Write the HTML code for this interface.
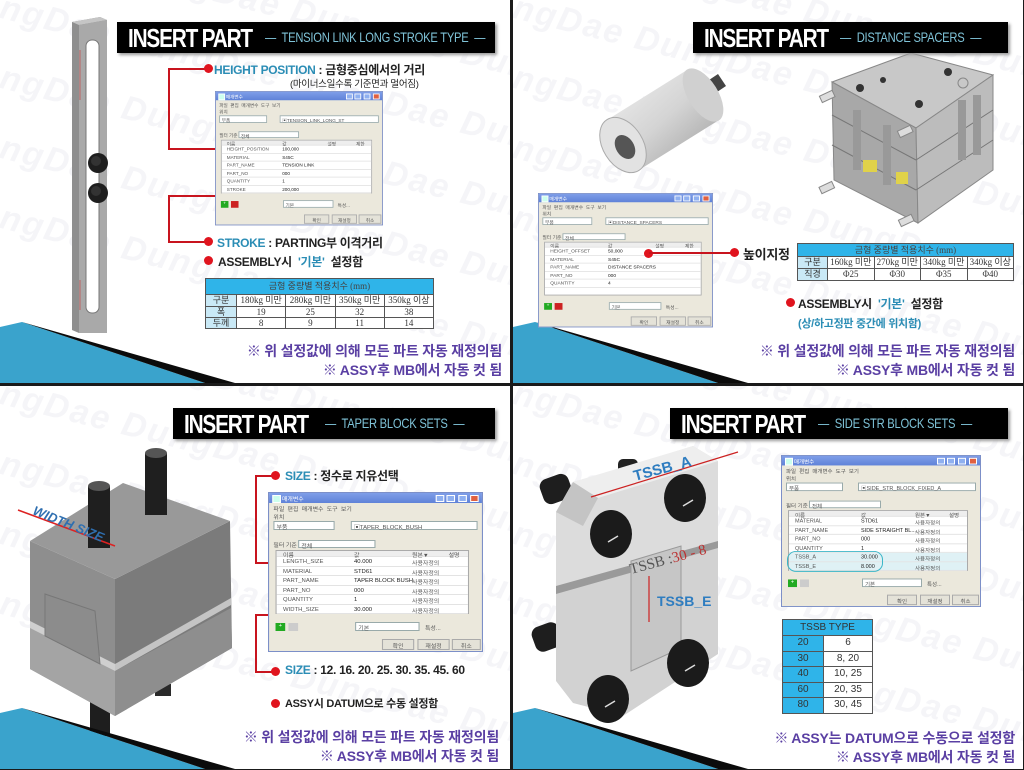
<!DOCTYPE html>
<html><head><meta charset="utf-8">
<style>
*{margin:0;padding:0;box-sizing:border-box}
html,body{width:1024px;height:770px;overflow:hidden}
body{background:#1a1a1a;position:relative;font-family:"Liberation Sans","Noto Sans CJK KR",sans-serif}
.q{position:absolute;width:510px;height:383px;background:#fff;overflow:hidden}
.a{position:absolute;white-space:nowrap}
.wm{position:absolute;left:-60px;font:bold italic 34px "Liberation Sans",sans-serif;color:#f5f5f8;transform:rotate(14deg);white-space:nowrap;letter-spacing:2px}
.title{position:absolute;top:22px;height:31px;background:#000;box-shadow:2px 2px 3px #999;color:#fff;white-space:nowrap;overflow:hidden}
.title b{position:absolute;left:11px;top:1px;font:bold 26px "Liberation Sans",sans-serif;letter-spacing:-1.5px;transform:scaleX(.8);transform-origin:0 0}
.title i{position:absolute;top:7px;font:normal 14px "Liberation Sans",sans-serif;color:#7fc3d8;font-style:normal;letter-spacing:-.3px;transform:scaleX(.8);transform-origin:0 0;white-space:nowrap}
.dot{position:absolute;width:9px;height:9px;border-radius:50%;background:#e0141e}
.lbl{position:absolute;white-space:nowrap;font:bold 12px "Liberation Sans","Noto Sans CJK KR",sans-serif;color:#222;letter-spacing:-.3px}
.lbl .t{color:#2b8db5}
.foot{position:absolute;right:8px;font:bold 14px "Liberation Sans","Noto Sans CJK KR",sans-serif;color:#5a3fa3;white-space:nowrap;letter-spacing:-.2px}
.rl{position:absolute;background:#c8141e}
table.t1{position:absolute;border-collapse:collapse;table-layout:fixed;font:9px "Liberation Serif","Noto Sans CJK KR",serif;color:#333;text-align:center;white-space:nowrap}
table.t1 td{border:1px solid #555;padding:0;background:#fff;overflow:hidden;line-height:1}
table.t1 td.h{background:#2fb4e9}
.dlg{position:absolute;width:200px;height:160px;background:#ebe8dc;border:1px solid #7c8fc8;transform-origin:0 0;font:5.5px "Liberation Sans","Noto Sans CJK KR",sans-serif;color:#555}
.dlg .tb{position:absolute;left:0;top:0;width:198px;height:10px;background:linear-gradient(#7f9ee8,#5f82d8);color:#fff;padding:2px 0 0 12px}
.dlg .tb:before{content:"";position:absolute;left:3px;top:2px;width:6px;height:6px;background:#cfe;border:1px solid #fff}
.dlg .wb{position:absolute;top:1.5px;width:8px;height:7px;background:#8fb0f0;border:1px solid #fff}
.dlg .d{position:absolute;white-space:nowrap}
.dlg .cb{position:absolute;height:9px;background:#fff;border:1px solid #9aa;padding:1px 2px;white-space:nowrap}
.dlg .g{position:absolute;left:6px;top:57px;width:180px;height:64px;background:#fff;border:1px solid #aaa}
.dlg .r{position:absolute;left:0;width:178px;height:9.5px;border-bottom:1px solid #e3e3e3}
.dlg .r span{position:absolute;top:2px;white-space:nowrap}
.dlg .bt{position:absolute;top:146px;height:11px;background:#e4e2d8;border:1px solid #aaa;text-align:center;padding-top:2px}
</style></head><body>

<div class="q" style="left:0;top:0">
 <div class="wm" style="top:10px">DungDae DungDae DungDae DungDae DungDae</div>
 <div class="wm" style="top:80px">DungDae DungDae DungDae DungDae DungDae</div>
 <div class="wm" style="top:150px">DungDae DungDae DungDae DungDae DungDae</div>
 <div class="wm" style="top:220px">DungDae DungDae DungDae DungDae DungDae</div>
 <div class="wm" style="top:290px">DungDae DungDae DungDae DungDae DungDae</div>
 <svg class="a" style="left:0;top:0" width="510" height="383">
  <polygon points="72,22 100,17 107,20 107,333 79,333 72,330" fill="#8f8f8f"/>
  <polygon points="72,22 100,17 107,20 79,25" fill="#c5c5c5"/>
  <polygon points="79,25 107,20 107,333 79,333" fill="#a9a9a9"/>
  <rect x="86" y="40" width="13" height="273" rx="6" fill="#fff" stroke="#777"/>
  <line x1="80" y1="50" x2="80" y2="100" stroke="#c33" stroke-width=".6"/>
  <line x1="80" y1="280" x2="80" y2="310" stroke="#c33" stroke-width=".6"/>
  <circle cx="98" cy="163" r="10" fill="#1e1e1e"/><circle cx="98" cy="193" r="10" fill="#1e1e1e"/>
  <circle cx="96" cy="161" r="5" fill="#333"/><circle cx="96" cy="191" r="5" fill="#333"/>
  <polygon points="0,327 22,322 205,383 0,383" fill="#3aa3cc"/>
  <polygon points="22,322 235,383 205,383" fill="#0b0b0b"/>
 </svg>
 <div class="title" style="left:117px;width:378px"><b>INSERT PART</b><i style="left:148px">—&nbsp; TENSION LINK LONG STROKE TYPE &nbsp;—</i></div>
 <div class="rl" style="left:168px;top:68px;width:40px;height:1.5px"></div>
 <div class="rl" style="left:168px;top:68px;width:1.5px;height:81px"></div>
 <div class="rl" style="left:168px;top:148px;width:50px;height:1.5px"></div>
 <div class="rl" style="left:168px;top:195px;width:50px;height:1.5px"></div>
 <div class="rl" style="left:168px;top:195px;width:1.5px;height:47px"></div>
 <div class="rl" style="left:168px;top:241px;width:40px;height:1.5px"></div>
 <div class="dot" style="left:204px;top:64px"></div>
 <div class="lbl" style="left:214px;top:61px"><span class="t">HEIGHT POSITION</span> : 금형중심에서의 거리</div>
 <div class="lbl" style="left:290px;top:76px;font-size:9.5px;font-weight:normal">(마이너스일수록 기준면과 멀어짐)</div>
 <div class="dlg" style="left:215px;top:91px;transform:scale(.84,.84)">
  <div class="tb">매개변수</div>
  <div class="wb" style="left:155px"></div><div class="wb" style="left:165px"></div><div class="wb" style="left:176px"></div><div class="wb" style="left:187px;background:#e06040"></div>
  <div class="d" style="left:4px;top:12px">파일 &nbsp;편집 &nbsp;매개변수 &nbsp;도구 &nbsp;보기</div>
  <div class="d" style="left:4px;top:20px">위치</div>
  <div class="cb" style="left:4px;top:28px;width:57px">부품</div>
  <div class="cb" style="left:76px;top:28px;width:118px">▣TENSION_LINK_LONG_ST</div>
  <div class="d" style="left:4px;top:48px">필터 기준</div><div class="cb" style="left:27px;top:47px;width:72px;height:8px">전체</div>
  <div class="g">
   <div class="r" style="top:0;height:6px;background:#eee"><span style="left:6px;top:0">이름</span><span style="left:72px;top:0">값</span><span style="left:126px;top:0">설명</span><span style="left:160px;top:0">제한</span></div>
   <div class="r" style="top:6px"><span style="left:6px">HEIGHT_POSITION</span><span style="left:72px;color:#222">100,000</span></div>
   <div class="r" style="top:15.5px"><span style="left:6px">MATERIAL</span><span style="left:72px;color:#222">S45C</span></div>
   <div class="r" style="top:25px"><span style="left:6px">PART_NAME</span><span style="left:72px;color:#222">TENSION LINK</span></div>
   <div class="r" style="top:34.5px"><span style="left:6px">PART_NO</span><span style="left:72px;color:#222">000</span></div>
   <div class="r" style="top:44px"><span style="left:6px">QUANTITY</span><span style="left:72px;color:#222">1</span></div>
   <div class="r" style="top:53.5px"><span style="left:6px">STROKE</span><span style="left:72px;color:#222">200,000</span></div>
  </div>
  <div class="d" style="left:6px;top:130px;width:9px;height:8px;background:#2a2;color:#fff;text-align:center">+</div>
  <div class="d" style="left:18px;top:130px;width:9px;height:8px;background:#c22"></div>
  <div class="cb" style="left:80px;top:129px;width:60px">기본</div>
  <div class="d" style="left:145px;top:131px">특성...</div>
  <div class="bt" style="left:105px;width:30px">확인</div><div class="bt" style="left:138px;width:30px">재설정</div><div class="bt" style="left:170px;width:27px">취소</div>
 </div>
 <div class="dot" style="left:204px;top:237px"></div>
 <div class="lbl" style="left:217px;top:234px"><span class="t">STROKE</span> : PARTING부 이격거리</div>
 <div class="dot" style="left:204px;top:256px"></div>
 <div class="lbl" style="left:218px;top:253px">ASSEMBLY시 &nbsp;<span class="t">'기본'</span>&nbsp; 설정함</div>
 <table class="t1" style="left:205px;top:278px;width:229px">
  <colgroup><col style="width:31px"><col><col><col><col></colgroup>
  <tr style="height:16px"><td class="h" colspan="5" style="color:#444">금형 중량별 적용치수 (mm)</td></tr>
  <tr style="height:12px"><td style="background:#c9e9f6">구분</td><td>180kg 미만</td><td>280kg 미만</td><td>350kg 미만</td><td>350kg 이상</td></tr>
  <tr style="height:11px"><td style="background:#c9e9f6">폭</td><td>19</td><td>25</td><td>32</td><td>38</td></tr>
  <tr style="height:11px"><td style="background:#c9e9f6">두께</td><td>8</td><td>9</td><td>11</td><td>14</td></tr>
 </table>
 <div class="foot" style="top:341px">※ 위 설정값에 의해 모든 파트 자동 재정의됨</div>
 <div class="foot" style="top:360px">※ ASSY후 MB에서 자동 컷 됨</div>
</div>

<div class="q" style="left:513px;top:0">
 <div class="wm" style="top:10px">DungDae DungDae DungDae DungDae DungDae</div>
 <div class="wm" style="top:80px">DungDae DungDae DungDae DungDae DungDae</div>
 <div class="wm" style="top:150px">DungDae DungDae DungDae DungDae DungDae</div>
 <div class="wm" style="top:220px">DungDae DungDae DungDae DungDae DungDae</div>
 <div class="wm" style="top:290px">DungDae DungDae DungDae DungDae DungDae</div>
 <svg class="a" style="left:0;top:0" width="510" height="383">
  <defs><linearGradient id="cy" x1="0" y1="0" x2="1" y2="1"><stop offset="0" stop-color="#f2f2f2"/><stop offset=".5" stop-color="#d4d4d4"/><stop offset="1" stop-color="#9a9a9a"/></linearGradient></defs>
  <polygon points="196,80 205,74 213,86 204,92" fill="#444"/>
  <polygon points="94,120 174,70 206,120 126,170" fill="url(#cy)"/>
  <ellipse cx="190" cy="95" rx="15" ry="30" transform="rotate(-32 190 95)" fill="#d0d0d0"/>
  <polygon points="94,120 174,70 206,120 126,170" fill="url(#cy)" opacity=".0"/>
  <ellipse cx="110" cy="145" rx="20" ry="30" transform="rotate(-32 110 145)" fill="#e2e2e2" stroke="#aaa"/>
  <ellipse cx="112" cy="147" rx="9" ry="13" transform="rotate(-32 112 147)" fill="#555"/>
  <polygon points="319,82 398,53 480,75 403,128" fill="#c8c8c8" stroke="#888"/>
  <polygon points="319,82 403,128 405,223 321,180" fill="#a8a8a8" stroke="#888"/>
  <polygon points="403,128 480,75 480,170 405,223" fill="#bcbcbc" stroke="#888"/>
  <line x1="319" y1="115" x2="403" y2="160" stroke="#777"/><line x1="403" y1="160" x2="480" y2="110" stroke="#777"/>
  <line x1="319" y1="145" x2="403" y2="190" stroke="#777"/><line x1="403" y1="190" x2="480" y2="140" stroke="#777"/>
  <rect x="340" y="110" width="8" height="60" fill="#999"/><rect x="370" y="125" width="8" height="60" fill="#999"/>
  <rect x="445" y="100" width="8" height="60" fill="#999"/><rect x="460" y="95" width="8" height="60" fill="#999"/>
  <rect x="350" y="160" width="14" height="12" fill="#e0d24a"/><rect x="383" y="172" width="12" height="12" fill="#e0d24a"/>
  <circle cx="347" cy="88" r="4" fill="#333"/><circle cx="370" cy="80" r="3" fill="#333"/><circle cx="406" cy="104" r="4" fill="#333"/><circle cx="435" cy="72" r="4" fill="#333"/><circle cx="450" cy="83" r="5" fill="none" stroke="#888"/>
  <rect x="307" y="93" width="14" height="7" fill="#ddd" stroke="#888" transform="rotate(-25 314 96)"/>
  <rect x="385" y="128" width="14" height="7" fill="#ddd" stroke="#888" transform="rotate(-25 392 131)"/>
  <rect x="307" y="184" width="14" height="7" fill="#ddd" stroke="#888" transform="rotate(-25 314 188)"/>
  <rect x="386" y="217" width="14" height="7" fill="#ddd" stroke="#888" transform="rotate(-25 393 220)"/>
  <polygon points="0,327 22,322 205,383 0,383" fill="#3aa3cc"/>
  <polygon points="22,322 235,383 205,383" fill="#0b0b0b"/>
 </svg>
 <div class="title" style="left:180px;width:315px"><b>INSERT PART</b><i style="left:147px">—&nbsp; DISTANCE SPACERS &nbsp;—</i></div>
 <div class="dlg" style="left:25px;top:193px;transform:scale(.875,.84)">
  <div class="tb">매개변수</div>
  <div class="wb" style="left:155px"></div><div class="wb" style="left:165px"></div><div class="wb" style="left:176px"></div><div class="wb" style="left:187px;background:#e06040"></div>
  <div class="d" style="left:4px;top:12px">파일 &nbsp;편집 &nbsp;매개변수 &nbsp;도구 &nbsp;보기</div>
  <div class="d" style="left:4px;top:20px">위치</div>
  <div class="cb" style="left:4px;top:28px;width:57px">부품</div>
  <div class="cb" style="left:76px;top:28px;width:118px">▣DISTANCE_SPACERS</div>
  <div class="d" style="left:4px;top:48px">필터 기준</div><div class="cb" style="left:27px;top:47px;width:72px;height:8px">전체</div>
  <div class="g">
   <div class="r" style="top:0;height:6px;background:#eee"><span style="left:6px;top:0">이름</span><span style="left:72px;top:0">값</span><span style="left:126px;top:0">설명</span><span style="left:160px;top:0">제한</span></div>
   <div class="r" style="top:6px"><span style="left:6px">HEIGHT_OFFSET</span><span style="left:72px;color:#222">50,000</span></div>
   <div class="r" style="top:15.5px"><span style="left:6px">MATERIAL</span><span style="left:72px;color:#222">S45C</span></div>
   <div class="r" style="top:25px"><span style="left:6px">PART_NAME</span><span style="left:72px;color:#222">DISTANCE SPACERS</span></div>
   <div class="r" style="top:34.5px"><span style="left:6px">PART_NO</span><span style="left:72px;color:#222">000</span></div>
   <div class="r" style="top:44px"><span style="left:6px">QUANTITY</span><span style="left:72px;color:#222">4</span></div>
  </div>
  <div class="d" style="left:6px;top:130px;width:9px;height:8px;background:#2a2;color:#fff;text-align:center">+</div>
  <div class="d" style="left:18px;top:130px;width:9px;height:8px;background:#c22"></div>
  <div class="cb" style="left:80px;top:129px;width:60px">기본</div>
  <div class="d" style="left:145px;top:131px">특성...</div>
  <div class="bt" style="left:105px;width:30px">확인</div><div class="bt" style="left:138px;width:30px">재설정</div><div class="bt" style="left:170px;width:27px">취소</div>
 </div>
 <div class="dot" style="left:131px;top:249px"></div>
 <div class="rl" style="left:136px;top:252px;width:86px;height:1.5px"></div>
 <div class="dot" style="left:217px;top:248px"></div>
 <div class="lbl" style="left:230px;top:244px;font-size:13px">높이지정</div>
 <table class="t1" style="left:284px;top:243px;width:217px">
  <colgroup><col style="width:30px"><col><col><col><col></colgroup>
  <tr style="height:13px"><td class="h" colspan="5" style="color:#444">금형 중량별 적용치수 (mm)</td></tr>
  <tr style="height:12px"><td style="background:#c9e9f6">구분</td><td>160kg 미만</td><td>270kg 미만</td><td>340kg 미만</td><td>340kg 이상</td></tr>
  <tr style="height:12px"><td style="background:#c9e9f6">직경</td><td>Φ25</td><td>Φ30</td><td>Φ35</td><td>Φ40</td></tr>
 </table>
 <div class="dot" style="left:273px;top:298px"></div>
 <div class="lbl" style="left:285px;top:295px">ASSEMBLY시 &nbsp;<span class="t">'기본'</span>&nbsp; 설정함</div>
 <div class="lbl" style="left:285px;top:315px;color:#2b8db5;font-size:11px">(상/하고정판 중간에 위치함)</div>
 <div class="foot" style="top:341px">※ 위 설정값에 의해 모든 파트 자동 재정의됨</div>
 <div class="foot" style="top:360px">※ ASSY후 MB에서 자동 컷 됨</div>
</div>

<div class="q" style="left:0;top:386px">
 <div class="wm" style="top:10px">DungDae DungDae DungDae DungDae DungDae</div>
 <div class="wm" style="top:80px">DungDae DungDae DungDae DungDae DungDae</div>
 <div class="wm" style="top:150px">DungDae DungDae DungDae DungDae DungDae</div>
 <div class="wm" style="top:220px">DungDae DungDae DungDae DungDae DungDae</div>
 <div class="wm" style="top:290px">DungDae DungDae DungDae DungDae DungDae</div>
 <svg class="a" style="left:0;top:0" width="510" height="383">
  <rect x="90" y="310" width="20" height="40" fill="#1e1e1e"/>
  <rect x="155" y="298" width="16" height="12" fill="#2a2a2a"/>
  <polygon points="30,155 115,193 115,330 30,283" fill="#8e8e8e"/>
  <polygon points="115,193 230,135 232,262 115,330" fill="#7b7b7b"/>
  <polygon points="30,155 123,97 230,135 115,193" fill="#999"/>
  <polygon points="30,240 115,285 115,330 30,283" fill="#a4a4a4"/>
  <polygon points="115,285 231,222 232,262 115,330" fill="#8e8e8e"/>
  <polygon points="30,235 115,278 115,285 30,242" fill="#cfcfcf"/>
  <polygon points="115,278 231,212 231,219 115,285" fill="#c4c4c4"/>
  <polygon points="45,208 95,225 100,278 45,250" fill="#8c8c8c" stroke="#777"/>
  <rect x="88" y="100" width="22" height="62" fill="#1f1f1f"/><ellipse cx="99" cy="100" rx="11" ry="5" fill="#555"/>
  <rect x="145" y="67" width="22" height="62" fill="#1f1f1f"/><ellipse cx="156" cy="67" rx="11" ry="5" fill="#555"/>
  <line x1="18" y1="124" x2="115" y2="160" stroke="#d22" stroke-width="1.5"/>
  <text x="32" y="128" font-family="Liberation Sans" font-weight="bold" font-style="italic" font-size="13" fill="#2f6fb0" transform="rotate(22 32 128)">WIDTH SIZE</text>
  <polygon points="0,327 22,322 205,383 0,383" fill="#3aa3cc"/>
  <polygon points="22,322 235,383 205,383" fill="#0b0b0b"/>
 </svg>
 <div class="title" style="left:173px;width:322px"><b>INSERT PART</b><i style="left:152px">—&nbsp; TAPER BLOCK SETS &nbsp;—</i></div>
 <div class="rl" style="left:255px;top:89px;width:20px;height:1.5px"></div>
 <div class="rl" style="left:255px;top:89px;width:1.5px;height:88px"></div>
 <div class="rl" style="left:255px;top:176px;width:18px;height:1.5px"></div>
 <div class="rl" style="left:255px;top:228px;width:18px;height:1.5px"></div>
 <div class="rl" style="left:255px;top:228px;width:1.5px;height:57px"></div>
 <div class="rl" style="left:255px;top:285px;width:20px;height:1.5px"></div>
 <div class="dot" style="left:271px;top:85px"></div>
 <div class="lbl" style="left:285px;top:81px"><span class="t">SIZE</span> : 정수로 지유선택</div>
 <div class="dlg" style="left:268px;top:106px;transform:scale(1.075,1)">
  <div class="tb">매개변수</div>
  <div class="wb" style="left:155px"></div><div class="wb" style="left:165px"></div><div class="wb" style="left:176px"></div><div class="wb" style="left:187px;background:#e06040"></div>
  <div class="d" style="left:4px;top:12px">파일 &nbsp;편집 &nbsp;매개변수 &nbsp;도구 &nbsp;보기</div>
  <div class="d" style="left:4px;top:20px">위치</div>
  <div class="cb" style="left:4px;top:28px;width:57px">부품</div>
  <div class="cb" style="left:76px;top:28px;width:118px">▣TAPER_BLOCK_BUSH</div>
  <div class="d" style="left:4px;top:48px">필터 기준</div><div class="cb" style="left:27px;top:47px;width:72px;height:8px">전체</div>
  <div class="g">
   <div class="r" style="top:0;height:6px;background:#eee"><span style="left:6px;top:0">이름</span><span style="left:72px;top:0">값</span><span style="left:126px;top:0">원본▼</span><span style="left:160px;top:0">설명</span></div>
   <div class="r" style="top:6px"><span style="left:6px">LENGTH_SIZE</span><span style="left:72px;color:#222">40.000</span><span style="left:126px">사용자정의</span></div>
   <div class="r" style="top:15.5px"><span style="left:6px">MATERIAL</span><span style="left:72px;color:#222">STD61</span><span style="left:126px">사용자정의</span></div>
   <div class="r" style="top:25px"><span style="left:6px">PART_NAME</span><span style="left:72px;color:#222">TAPER BLOCK BUSH</span><span style="left:126px">사용자정의</span></div>
   <div class="r" style="top:34.5px"><span style="left:6px">PART_NO</span><span style="left:72px;color:#222">000</span><span style="left:126px">사용자정의</span></div>
   <div class="r" style="top:44px"><span style="left:6px">QUANTITY</span><span style="left:72px;color:#222">1</span><span style="left:126px">사용자정의</span></div>
   <div class="r" style="top:53.5px"><span style="left:6px">WIDTH_SIZE</span><span style="left:72px;color:#222">30.000</span><span style="left:126px">사용자정의</span></div>
  </div>
  <div class="d" style="left:6px;top:130px;width:9px;height:8px;background:#2a2;color:#fff;text-align:center">+</div>
  <div class="d" style="left:18px;top:130px;width:9px;height:8px;background:#ccc"></div>
  <div class="cb" style="left:80px;top:129px;width:60px">기본</div>
  <div class="d" style="left:145px;top:131px">특성...</div>
  <div class="bt" style="left:105px;width:30px">확인</div><div class="bt" style="left:138px;width:30px">재설정</div><div class="bt" style="left:170px;width:27px">취소</div>
 </div>
 <div class="dot" style="left:271px;top:281px"></div>
 <div class="lbl" style="left:285px;top:277px"><span class="t">SIZE</span> : 12. 16. 20. 25. 30. 35. 45. 60</div>
 <div class="dot" style="left:271px;top:313px"></div>
 <div class="lbl" style="left:285px;top:309px;font-size:11px">ASSY시 DATUM으로 수동 설정함</div>
 <div class="foot" style="top:341px;right:11px">※ 위 설정값에 의해 모든 파트 자동 재정의됨</div>
 <div class="foot" style="top:360px;right:11px">※ ASSY후 MB에서 자동 컷 됨</div>
</div>

<div class="q" style="left:513px;top:386px">
 <div class="wm" style="top:10px">DungDae DungDae DungDae DungDae DungDae</div>
 <div class="wm" style="top:80px">DungDae DungDae DungDae DungDae DungDae</div>
 <div class="wm" style="top:150px">DungDae DungDae DungDae DungDae DungDae</div>
 <div class="wm" style="top:220px">DungDae DungDae DungDae DungDae DungDae</div>
 <div class="wm" style="top:290px">DungDae DungDae DungDae DungDae DungDae</div>
 <svg class="a" style="left:0;top:0" width="510" height="383">
  <rect x="28" y="90" width="30" height="26" rx="8" fill="#1e1e1e" transform="rotate(-20 43 103)"/>
  <rect x="20" y="238" width="28" height="26" rx="8" fill="#1e1e1e" transform="rotate(-20 34 251)"/>
  <rect x="105" y="73" width="20" height="16" rx="5" fill="#222"/>
  <polygon points="43,126 60,96 110,82 180,60 205,75 205,160 50,205 43,200" fill="#dcdcdc"/>
  <polygon points="60,96 180,60 205,75 85,112" fill="#eeeeee"/>
  <polygon points="43,126 60,96 85,112 70,140" fill="#c4c4c4"/>
  <polygon points="43,205 205,160 205,268 110,330 60,317 43,295" fill="#d2d2d2"/>
  <polygon points="43,200 205,155 205,162 43,208" fill="#9a9a9a"/>
  <polygon points="118,175 168,160 168,262 118,285" fill="#c6c6c6" stroke="#999"/>
  <g fill="#1b1b1b"><ellipse cx="98" cy="148" rx="21" ry="24"/><ellipse cx="172" cy="112" rx="21" ry="24"/><ellipse cx="95" cy="313" rx="21" ry="24"/><ellipse cx="175" cy="277" rx="21" ry="24"/></g>
  <g stroke="#ddd" stroke-width="1.5"><line x1="95" y1="156" x2="105" y2="150"/><line x1="170" y1="120" x2="180" y2="114"/><line x1="92" y1="321" x2="102" y2="315"/><line x1="172" y1="285" x2="182" y2="279"/></g>
  <line x1="78" y1="111" x2="225" y2="66" stroke="#c22" stroke-width="1.2"/>
  <text x="122" y="95" font-family="Liberation Sans" font-weight="bold" font-size="15" fill="#2f7dc0" transform="rotate(-15 122 95)">TSSB_A</text>
  <text x="118" y="188" font-family="Liberation Serif" font-size="15" fill="#555" transform="rotate(-15 118 188)">TSSB :<tspan fill="#b33">30 - 8</tspan></text>
  <line x1="136" y1="190" x2="136" y2="236" stroke="#c22" stroke-width="1.2"/>
  <text x="144" y="220" font-family="Liberation Sans" font-weight="bold" font-size="14" fill="#2f7dc0">TSSB_E</text>
  <polygon points="0,327 22,322 205,383 0,383" fill="#3aa3cc"/>
  <polygon points="22,322 235,383 205,383" fill="#0b0b0b"/>
 </svg>
 <div class="title" style="left:157px;width:338px"><b>INSERT PART</b><i style="left:148px">—&nbsp; SIDE STR BLOCK SETS &nbsp;—</i></div>
 <div class="dlg" style="left:268px;top:69px;transform:scale(1,.95)">
  <div class="tb">매개변수</div>
  <div class="wb" style="left:155px"></div><div class="wb" style="left:165px"></div><div class="wb" style="left:176px"></div><div class="wb" style="left:187px;background:#e06040"></div>
  <div class="d" style="left:4px;top:12px">파일 &nbsp;편집 &nbsp;매개변수 &nbsp;도구 &nbsp;보기</div>
  <div class="d" style="left:4px;top:20px">위치</div>
  <div class="cb" style="left:4px;top:28px;width:57px">부품</div>
  <div class="cb" style="left:76px;top:28px;width:118px">▣SIDE_STR_BLOCK_FIXED_A</div>
  <div class="d" style="left:4px;top:48px">필터 기준</div><div class="cb" style="left:27px;top:47px;width:72px;height:8px">전체</div>
  <div class="g">
   <div class="r" style="top:0;height:6px;background:#eee"><span style="left:6px;top:0">이름</span><span style="left:72px;top:0">값</span><span style="left:126px;top:0">원본▼</span><span style="left:160px;top:0">설명</span></div>
   <div class="r" style="top:6px"><span style="left:6px">MATERIAL</span><span style="left:72px;color:#222">STD61</span><span style="left:126px">사용자정의</span></div>
   <div class="r" style="top:15.5px"><span style="left:6px">PART_NAME</span><span style="left:72px;color:#222">SIDE STRAIGHT BL...</span><span style="left:126px">사용자정의</span></div>
   <div class="r" style="top:25px"><span style="left:6px">PART_NO</span><span style="left:72px;color:#222">000</span><span style="left:126px">사용자정의</span></div>
   <div class="r" style="top:34.5px"><span style="left:6px">QUANTITY</span><span style="left:72px;color:#222">1</span><span style="left:126px">사용자정의</span></div>
   <div class="r" style="top:44px;background:#dff1f5"><span style="left:6px">TSSB_A</span><span style="left:72px;color:#222">30.000</span><span style="left:126px">사용자정의</span></div>
   <div class="r" style="top:53.5px;background:#dff1f5"><span style="left:6px">TSSB_E</span><span style="left:72px;color:#222">8.000</span><span style="left:126px">사용자정의</span></div>
   <div class="d" style="left:-2px;top:42px;width:96px;height:22px;border:1.5px solid #3ab6c8;border-radius:9px"></div>
  </div>
  <div class="d" style="left:6px;top:130px;width:9px;height:8px;background:#2a2;color:#fff;text-align:center">+</div>
  <div class="d" style="left:18px;top:130px;width:9px;height:8px;background:#ccc"></div>
  <div class="cb" style="left:80px;top:129px;width:60px">기본</div>
  <div class="d" style="left:145px;top:131px">특성...</div>
  <div class="bt" style="left:105px;width:30px">확인</div><div class="bt" style="left:138px;width:30px">재설정</div><div class="bt" style="left:170px;width:27px">취소</div>
 </div>
 <table class="t1" style="left:269px;top:233px;width:91px;font-family:'Liberation Sans',sans-serif;font-size:10px">
  <colgroup><col style="width:41px"><col></colgroup>
  <tr style="height:16px"><td colspan="2" class="h">TSSB TYPE</td></tr>
  <tr style="height:15.5px"><td class="h">20</td><td>6</td></tr>
  <tr style="height:15.5px"><td class="h">30</td><td>8, 20</td></tr>
  <tr style="height:15.5px"><td class="h">40</td><td>10, 25</td></tr>
  <tr style="height:15.5px"><td class="h">60</td><td>20, 35</td></tr>
  <tr style="height:15.5px"><td class="h">80</td><td>30, 45</td></tr>
 </table>
 <div class="foot" style="top:342px">※ ASSY는 DATUM으로 수동으로 설정함</div>
 <div class="foot" style="top:361px">※ ASSY후 MB에서 자동 컷 됨</div>
</div>
</body></html>
